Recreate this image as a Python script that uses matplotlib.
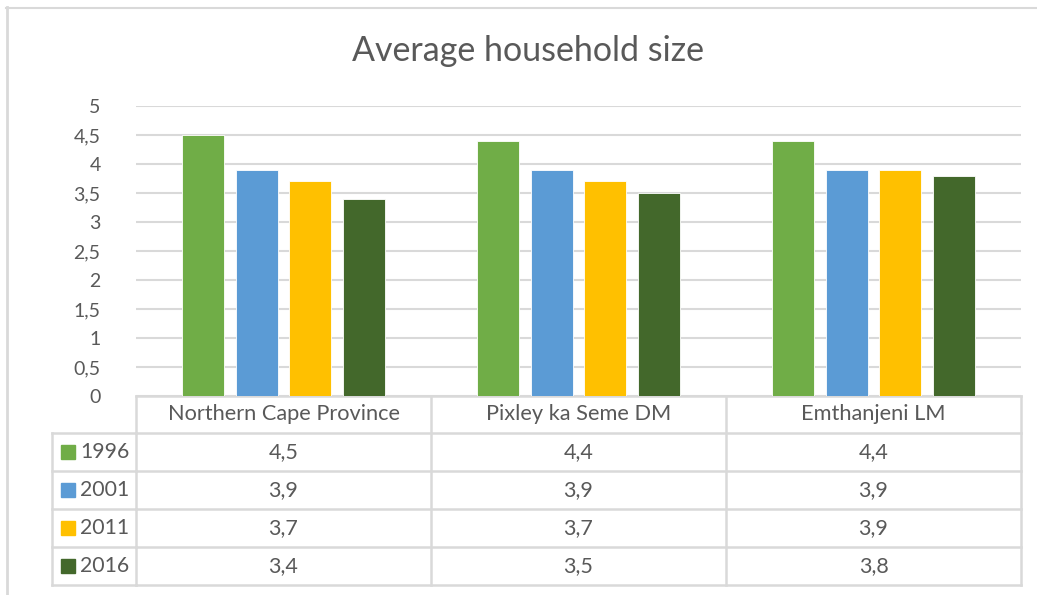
import matplotlib.pyplot as plt
from matplotlib.transforms import blended_transform_factory
import numpy as np

plt.rcParams['font.family'] = ['Lato', 'DejaVu Sans']

categories = ['Northern Cape Province', 'Pixley ka Seme DM', 'Emthanjeni LM']
years = ['1996', '2001', '2011', '2016']
size_1996 = [4.5, 4.4, 4.4]
size_2001 = [3.9, 3.9, 3.9]
size_2011 = [3.7, 3.7, 3.9]
size_2016 = [3.4, 3.5, 3.8]
colors = ['#70AD47', '#5B9BD5', '#FFC000', '#43682B']
series = [size_1996, size_2001, size_2011, size_2016]

txt = '#595959'
grid = '#D9D9D9'

def comma(v):
    return f'{v:g}'.replace('.', ',')

W, H = 1037, 595
fig = plt.figure(figsize=(W / 100, H / 100), dpi=100)

# overlay in pixel coords for frame + table
ov = fig.add_axes([0, 0, 1, 1], zorder=0)
ov.set_xlim(0, W)
ov.set_ylim(H, 0)
ov.axis('off')

ax = fig.add_axes([136 / W, 1 - 396 / H, (1021 - 136) / W, 290 / H], zorder=1)
ax.patch.set_alpha(0)

x = np.arange(len(categories))
step, width = 0.181, 0.142
for i, (vals, c) in enumerate(zip(series, colors)):
    ax.bar(x + (i - 1.5) * step, vals, width, color=c, edgecolor='white',
           linewidth=0.6, zorder=3)

ax.set_xlim(-0.5, 2.5)
ax.set_ylim(0, 5)
yt = np.arange(0, 5.01, 0.5)
ax.set_yticks(yt)
ax.set_yticklabels([comma(v) for v in yt])
ax.grid(axis='y', color=grid, lw=1.5, zorder=0)
for s in ax.spines.values():
    s.set_visible(False)
ax.tick_params(left=False, bottom=False, labelbottom=False, labelsize=14,
               labelcolor=txt, pad=22)

fig.text(0.509, 1 - 51 / H, 'Average household size', ha='center', va='center',
         fontsize=24.5, color=txt)

# outer frame (top + left)
ov.plot([6, W], [7.5, 7.5], color=grid, lw=1.5)
ov.plot([6.5, 6.5], [7, H], color=grid, lw=2)

# data table below the axis
tr = blended_transform_factory(ax.transData, ov.transData)
rows_y = [396, 433, 471, 509, 547, 585]
left_x = 52
for bx in np.arange(len(categories) + 1) - 0.5:
    ax.plot([bx, bx], [rows_y[0], rows_y[-1]], transform=tr, color=grid, lw=1.8,
            clip_on=False, zorder=2)
for k, yy in enumerate(rows_y):
    ax.plot([-0.5, 2.5], [yy, yy], transform=tr, color=grid, lw=1.8,
            clip_on=False, zorder=2)
    if k > 0:
        ov.plot([left_x, 136], [yy, yy], color=grid, lw=1.8)
ov.plot([left_x, left_x], [rows_y[1], rows_y[-1]], color=grid, lw=1.8)

for j, cat in enumerate(categories):
    ax.text(j, (rows_y[0] + rows_y[1]) / 2, cat, transform=tr, ha='center',
            va='center', fontsize=15.7, color=txt)
for i, (yr, vals, c) in enumerate(zip(years, series, colors)):
    yc = (rows_y[i + 1] + rows_y[i + 2]) / 2
    ov.add_patch(plt.Rectangle((61, yc - 7), 14, 14, color=c))
    ov.text(80, yc, yr, ha='left', va='center', fontsize=15.3, color=txt)
    for j, v in enumerate(vals):
        ax.text(j, yc, comma(v), transform=tr, ha='center', va='center',
                fontsize=15.5, color=txt)

fig.savefig('out.png', dpi=100, facecolor='white')
